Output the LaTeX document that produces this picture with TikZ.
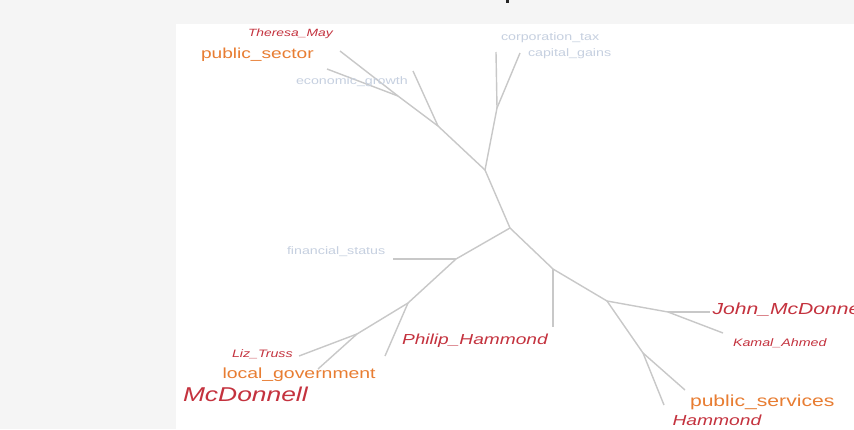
\documentclass[tikz,border=0pt]{standalone}
\usepackage{fontspec}
\setmainfont{Liberation Sans}
\usetikzlibrary{positioning}
\definecolor{termRed}{RGB}{196,50,62}
\definecolor{termOrange}{RGB}{232,125,50}
\definecolor{termPale}{RGB}{198,208,224}
\definecolor{branchGray}{RGB}{200,200,200}
\definecolor{pageGray}{RGB}{245,245,245}
\newcommand{\wide}[1]{\scalebox{1.32}[1]{#1}}
\newcommand{\fsz}[1]{\fontsize{#1}{#1}\selectfont}

\begin{document}
\begin{tikzpicture}[x=1pt, y=-1pt,
    branch/.style={draw=branchGray, line width=1.4pt},
    term/.style={anchor=base west, inner sep=0pt, outer sep=0pt},
    person/.style={term, text=termRed, font=\itshape},
    topic/.style={term, text=termOrange},
    minor/.style={term, text=termPale}]
  \useasboundingbox (0,0) rectangle (854,429);
  \fill[pageGray] (0,0) rectangle (854,429);
  \fill[white] (176,24) rectangle (854,429);
  \fill[black!85] (506,0) rectangle (509,3);

  % inner points of the tree
  \coordinate (root) at (510,228);
  \coordinate (nA) at (485,170);
  \coordinate (nB) at (497,108);
  \coordinate (nC) at (438,126);
  \coordinate (nD) at (398,96);
  \coordinate (nE) at (456,259);
  \coordinate (nF) at (408,303);
  \coordinate (nG) at (357,334);
  \coordinate (nH) at (553,269);
  \coordinate (nI) at (607,301);
  \coordinate (nJ) at (668,312);
  \coordinate (nK) at (643,353);

  % tips
  \coordinate (tCorp) at (496,52);
  \coordinate (tGains) at (520,53);
  \coordinate (tUp) at (413,71);
  \coordinate (tSector) at (340,51);
  \coordinate (tGrowth) at (327,69);
  \coordinate (tStatus) at (393,259);
  \coordinate (tPhilip) at (385,356);
  \coordinate (tTruss) at (299,356);
  \coordinate (tLocal) at (318,369);
  \coordinate (tHam) at (553,327);
  \coordinate (tJohn) at (710,312);
  \coordinate (tKamal) at (723,333);
  \coordinate (tServ) at (685,390);
  \coordinate (tHammond) at (664,405);

  \foreach \a/\b in {root/nA, nA/nB, nB/tCorp, nB/tGains, nA/nC, nC/tUp,
      nC/nD, nD/tSector, nD/tGrowth, root/nE, nE/tStatus, nE/nF, nF/tPhilip,
      nF/nG, nG/tTruss, nG/tLocal, root/nH, nH/tHam, nH/nI, nI/nJ,
      nJ/tJohn, nJ/tKamal, nI/nK, nK/tServ, nK/tHammond}
    \draw[branch] (\a) -- (\b);

  % labels
  \node[person, font=\fsz{10.5}\itshape] (theresa) at (248,36.5) {\wide{Theresa\_May}};
  \node[topic, font=\fsz{14.5}] (sector) at (201,58) {\wide{public\_sector}};
  \node[minor, font=\fsz{10.8}] (growth) at (296,84) {\wide{economic\_growth}};
  \node[minor, font=\fsz{10.8}] (corp) at (501,40) {\wide{corporation\_tax}};
  \node[minor, font=\fsz{10.8}] (gains) at (528,56.5) {\wide{capital\_gains}};
  \node[minor, font=\fsz{10.8}] (status) at (287,254.5) {\wide{financial\_status}};
  \node[person, font=\fsz{14.5}\itshape] (philip) at (402,344) {\wide{Philip\_Hammond}};
  \node[person, font=\fsz{10.8}\itshape] (truss) at (232,357.5) {\wide{Liz\_Truss}};
  \node[topic, font=\fsz{14.7}] (local) at (222.5,378) {\wide{local\_government}};
  \node[person, font=\fsz{20}\itshape] (mcd) at (183,401) {\wide{McDonnell}};
  \node[person, font=\fsz{16}\itshape] (john) at (712.5,314.5) {\wide{John\_McDonnell}};
  \node[person, font=\fsz{10.8}\itshape] (kamal) at (733,346) {\wide{Kamal\_Ahmed}};
  \node[topic, font=\fsz{16}] (services) at (690,406) {\wide{public\_services}};
  \node[person, font=\fsz{14.6}\itshape] (hammond) at (672.5,425) {\wide{Hammond}};
\end{tikzpicture}
\end{document}
